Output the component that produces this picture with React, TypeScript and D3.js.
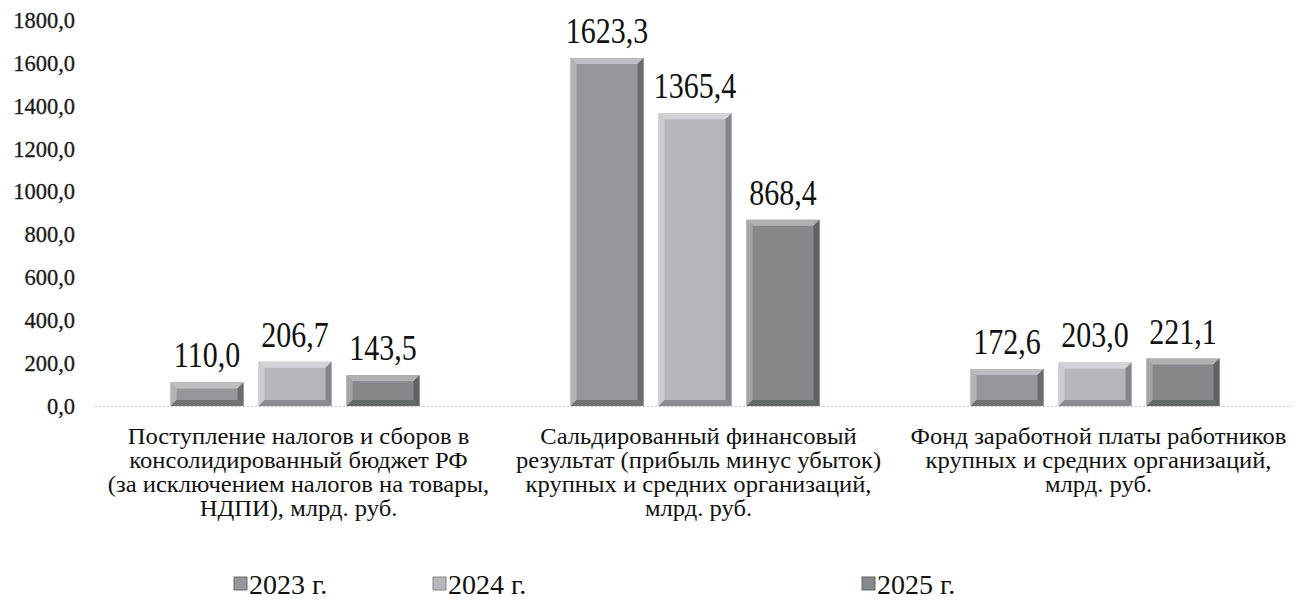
import React from "react";
import * as d3 from "d3";

const categories = [
  ["Поступление налогов и сборов в", "консолидированный бюджет РФ", "(за исключением налогов на товары,", "НДПИ), млрд. руб."],
  ["Сальдированный финансовый", "результат (прибыль минус убыток)", "крупных и средних организаций,", "млрд. руб."],
  ["Фонд заработной платы работников", "крупных и средних организаций,", "млрд. руб."],
];
const categoryKeys = ["tax", "profit", "wages"];
const series = ["2023 г.", "2024 г.", "2025 г."];
const values2023 = [110.0, 1623.3, 172.6];
const values2024 = [206.7, 1365.4, 203.0];
const values2025 = [143.5, 868.4, 221.1];
const yTicks = [0, 200, 400, 600, 800, 1000, 1200, 1400, 1600, 1800];

const seriesValues = [values2023, values2024, values2025];
const faceColors = ["#96969c", "#b6b6bc", "#86898b"];
const lightEdge = ["#bdbdc2", "#d4d4d8", "#aeb1b2"];
const darkEdge = ["#6a6c6c", "#85858b", "#5e6462"];

const fmt = (v: number) => v.toFixed(1).replace(".", ",");
const FONT = '"Liberation Serif", "Times New Roman", serif';

export default function App() {
  const W = 1300, H = 605;
  const x0 = d3.scaleBand<string>().domain(categoryKeys).range([95, 1295]).paddingInner(0).paddingOuter(0);
  const x1 = d3.scaleBand<string>().domain(series).range([0, x0.bandwidth()]).paddingInner(0.17).paddingOuter(0.858);
  const y = d3.scaleLinear().domain([0, 1800]).range([406, 20]);
  const legendX = [234, 433, 862];
  const bev = 6;

  return (
    <svg width={W} height={H} style={{ position: "absolute", left: 0, top: 0, background: "#fff", fontFamily: FONT }}>
      {yTicks.map((t) => (
        <text key={t} x={75} y={y(t)} dy="0.35em" textAnchor="end" style={{ fontFamily: FONT, fontSize: 22.5 }} fill="#1a1a1a" stroke="#1a1a1a" strokeWidth={0.3}>
          {fmt(t)}
        </text>
      ))}
      <line x1={95} x2={1292} y1={y(0) + 0.5} y2={y(0) + 0.5} stroke="#c8c8c8" strokeWidth={1} strokeDasharray="2,2" />
      {categoryKeys.map((c, ci) => (
        <g key={c}>
          {series.map((s, si) => {
            const v = seriesValues[si][ci];
            const bx = (x0(c) as number) + (x1(s) as number);
            const bw = x1.bandwidth();
            const by = y(v);
            const bh = y(0) - by;
            const b = Math.min(bev, bh / 3);
            return (
              <g key={s}>
                <rect x={bx} y={by} width={bw} height={bh} fill={faceColors[si]} />
                <polygon points={`${bx},${by} ${bx + bw},${by} ${bx + bw - b},${by + b} ${bx + b},${by + b}`} fill={lightEdge[si]} />
                <polygon points={`${bx},${by} ${bx + b},${by + b} ${bx + b},${by + bh - b} ${bx},${by + bh}`} fill={lightEdge[si]} opacity={0.75} />
                <polygon points={`${bx + bw},${by} ${bx + bw},${by + bh} ${bx + bw - b},${by + bh - b} ${bx + bw - b},${by + b}`} fill={darkEdge[si]} />
                <polygon points={`${bx},${by + bh} ${bx + bw},${by + bh} ${bx + bw - b},${by + bh - b} ${bx + b},${by + bh - b}`} fill={darkEdge[si]} opacity={0.85} />
                <text transform={`translate(${bx + bw / 2},${by - 15}) scale(1,1.18)`} textAnchor="middle" style={{ fontFamily: FONT, fontSize: 30 }} fill="#111">
                  {fmt(v)}
                </text>
              </g>
            );
          })}
          {categories[ci].map((line, li) => (
            <text key={li} transform={`translate(${(x0(c) as number) + x0.bandwidth() / 2 + 3.5},${444 + li * 24}) scale(1.07,1)`} textAnchor="middle" style={{ fontFamily: FONT, fontSize: 23 }} fill="#111">
              {line}
            </text>
          ))}
        </g>
      ))}
      {series.map((s, si) => (
        <g key={s}>
          <rect x={legendX[si]} y={577} width={13} height={13} fill={faceColors[si]} stroke={darkEdge[si]} strokeWidth={1} />
          <text x={legendX[si] + 15} y={594} style={{ fontFamily: FONT, fontSize: 28 }} fill="#111">
            {s}
          </text>
        </g>
      ))}
    </svg>
  );
}
